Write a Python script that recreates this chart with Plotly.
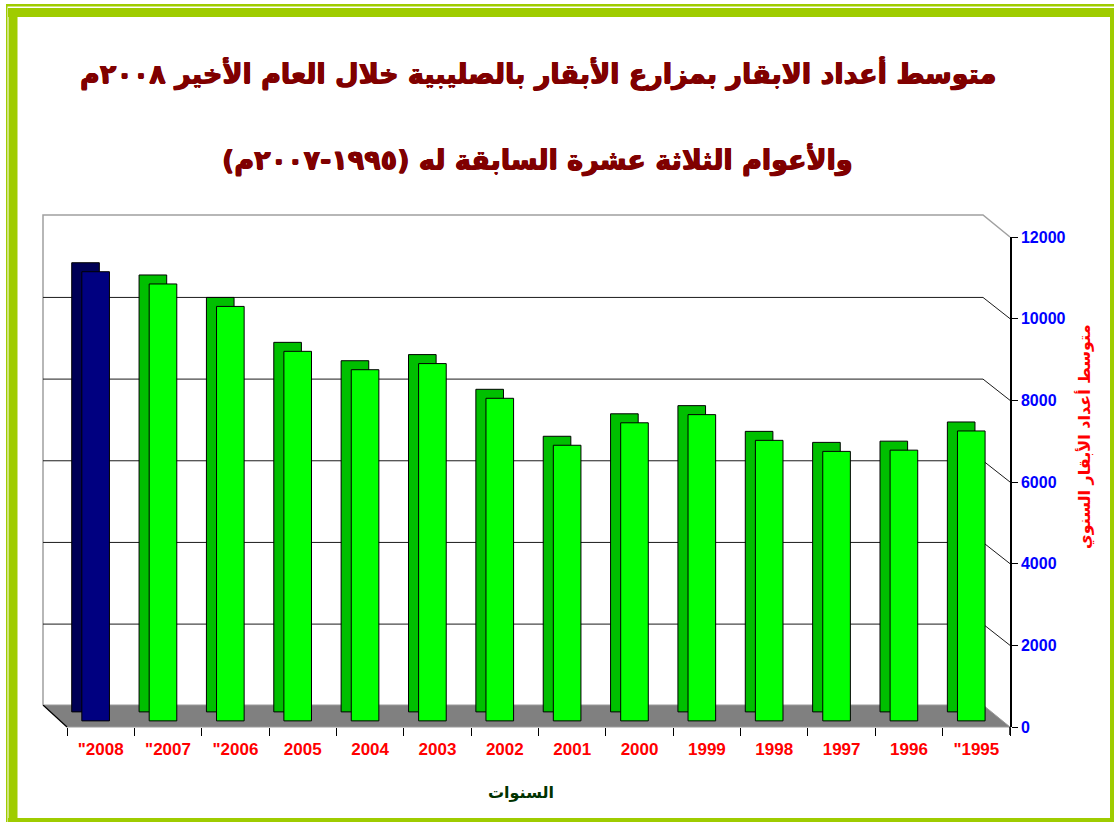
import plotly.graph_objects as go

# ---------------- data ----------------
years = ['"2008', '"2007', '"2006', '2005', '2004', '2003', '2002',
         '2001', '2000', '1999', '1998', '1997', '1996', '"1995']
cows = [11000, 10700, 10150, 9050, 8600, 8750, 7900,
        6750, 7300, 7500, 6870, 6600, 6630, 7100]
y_ticks = [0, 2000, 4000, 6000, 8000, 10000, 12000]
y_tick_text = ['0', '2000', '4000', '6000', '8000', '10000', '12000']

title_1 = "متوسط أعداد الابقار بمزارع الأبقار بالصليبية خلال العام الأخير ٢٠٠٨م"
title_2 = "والأعوام الثلاثة عشرة السابقة له (١٩٩٥-٢٠٠٧م)"
x_title = "السنوات"
y_title = "متوسط أعداد الأبقار السنوي"

# ---------------- style ----------------
W, H = 1114, 822
L, R, T, B = 67, 104, 237, 95
PW, PH = W - L - R, H - T - B
YMAX = 12000

def px(xp):
    return (xp - L) / PW

def py(yp):
    return (H - B - yp) / PH

FRONT_BASE = 150      # bars stand slightly behind the front edge of the floor
DEPTH = 220           # 3-D depth of the bars (value units)
WALL_SHIFT = 520      # back-wall offset (value units)

front_cols = ['#000080'] + ['#00FF00'] * (len(years) - 1)
side_cols = ['#000055'] + ['#00BF00'] * (len(years) - 1)

narrow = "Liberation Sans Narrow, Arial Narrow, Liberation Sans, Arial"
arabic = "DejaVu Sans, Noto Sans, sans-serif"

fig = go.Figure()
fig.add_trace(go.Bar(
    x=years, y=cows, base=FRONT_BASE + DEPTH, offset=-0.43, width=0.41,
    marker=dict(color=side_cols, line=dict(color='black', width=1)),
    hoverinfo='skip', showlegend=False))
fig.add_trace(go.Bar(
    x=years, y=cows, base=FRONT_BASE, offset=-0.28, width=0.41,
    marker=dict(color=front_cols, line=dict(color='black', width=1)),
    hoverinfo='skip', showlegend=False))

shapes = []
green = '#9FCC00'
# page border
shapes += [
    dict(type='rect', xref='paper', yref='paper', layer='below',
         x0=px(6), x1=px(W + 5), y0=py(4), y1=py(6.5), fillcolor=green, line_width=0),
    dict(type='rect', xref='paper', yref='paper', layer='below',
         x0=px(6), x1=px(7.5), y0=py(4), y1=py(H + 5), fillcolor=green, line_width=0),
    dict(type='rect', xref='paper', yref='paper', layer='below',
         x0=px(8), x1=px(1110), y0=py(8), y1=py(17), fillcolor=green, line_width=0),
    dict(type='rect', xref='paper', yref='paper', layer='below',
         x0=px(8.5), x1=px(17.5), y0=py(8), y1=py(H + 5), fillcolor=green, line_width=0),
    dict(type='rect', xref='paper', yref='paper', layer='below',
         x0=px(1110), x1=px(W + 5), y0=py(8), y1=py(H + 5), fillcolor=green, line_width=0),
    dict(type='rect', xref='paper', yref='paper', layer='below',
         x0=px(8), x1=px(W + 5), y0=py(818), y1=py(H + 5), fillcolor=green, line_width=0),
]
# floor
shapes.append(dict(
    type='path', xref='paper', yref='paper', layer='below',
    path=f"M {px(43)},{py(705)} L {px(983)},{py(705)} L {px(1010)},{py(727)} L {px(67)},{py(727)} Z",
    fillcolor='#808080', line=dict(color='#9A9A9A', width=1)))
shapes.append(dict(
    type='line', xref='paper', yref='paper', layer='below',
    x0=px(43), y0=py(705), x1=px(67), y1=py(727), line=dict(color='black', width=1.2)))
# back wall frame
shapes.append(dict(
    type='path', xref='paper', yref='paper', layer='below',
    path=f"M {px(43)},{py(705)} L {px(43)},{py(215)} L {px(983)},{py(215)} L {px(1010)},{py(237)}",
    line=dict(color='#A0A0A0', width=1.5)))
# front axis line extends slightly below the floor
shapes.append(dict(
    type='line', xref='paper', yref='paper', layer='above',
    x0=1, y0=py(727), x1=1, y1=py(735), line=dict(color='black', width=1.5)))
# back-wall gridlines joined to the front axis
for v in y_ticks[1:-1]:
    shapes.append(dict(
        type='path', xref='paper', yref='y', layer='below',
        path=f"M {px(43)},{v + WALL_SHIFT} L {px(983)},{v + WALL_SHIFT} L 1,{v}",
        line=dict(color='#1A1A1A', width=1)))

title_font = dict(family=arabic, size=27, color='#800000',
                  shadow='0.6px 0 0 #800000, -0.6px 0 0 #800000, 0 0.6px 0 #800000')
annotations = [
    dict(text=f"<b>{title_1}</b>", xref='paper', yref='paper', x=px(538), y=py(73),
         xanchor='center', yanchor='middle', showarrow=False, font=title_font),
    dict(text=f"<b>{title_2}</b>", xref='paper', yref='paper', x=px(537), y=py(160),
         xanchor='center', yanchor='middle', showarrow=False, font=title_font),
    dict(text=f"<b>{x_title}</b>", xref='paper', yref='paper', x=px(521), y=py(792),
         xanchor='center', yanchor='middle',
         showarrow=False, font=dict(family=arabic, size=16, color='#003300')),
    dict(text=f"<b>{y_title}</b>", xref='paper', yref='paper', x=px(1084), y=py(437),
         xanchor='center', yanchor='middle',
         showarrow=False, textangle=-90, font=dict(family=arabic, size=16, color='#FF0000')),
]

fig.update_layout(
    width=W, height=H,
    margin=dict(l=L, r=R, t=T, b=B, pad=0),
    paper_bgcolor='white', plot_bgcolor='rgba(0,0,0,0)',
    barmode='overlay', showlegend=False,
    shapes=shapes, annotations=annotations,
    xaxis=dict(type='category', categoryorder='array', categoryarray=years,
               range=[-0.5, len(years) - 0.5], tickson='boundaries',
               ticks='outside', ticklen=8, tickcolor='black', tickwidth=1,
               ticklabelstandoff=10,
               showline=False, showgrid=False, zeroline=False,
               tickfont=dict(family=narrow, size=17, color='#FF0000', weight='bold')),
    yaxis=dict(side='right', range=[0, YMAX], tickvals=y_ticks, ticktext=y_tick_text,
               ticks='outside', ticklen=6, tickcolor='black', tickwidth=1,
               showline=True, linecolor='black', linewidth=1.5,
               showgrid=False, zeroline=False,
               tickfont=dict(family=narrow, size=16, color='#0000FF', weight='bold')),
)

fig.write_html("out.html", config={'displayModeBar': False},
               post_script="document.body.style.margin='0';document.body.style.padding='0';")
